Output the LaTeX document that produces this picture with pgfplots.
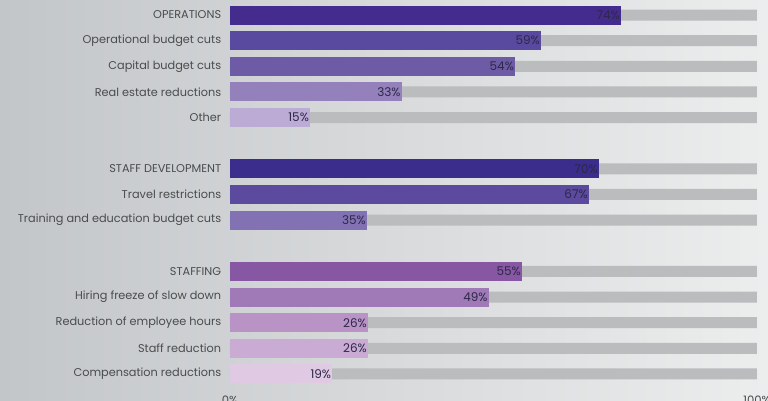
\documentclass[border=0pt]{standalone}
\usepackage{pgfplots}
\pgfplotsset{compat=1.18}
\usepackage{fontspec}
\setmainfont{Poppins}
\usetikzlibrary{backgrounds}
\definecolor{cA}{HTML}{432C8E}
\definecolor{cB}{HTML}{5A4A9F}
\definecolor{cC}{HTML}{6E5BA5}
\definecolor{cD}{HTML}{9480BB}
\definecolor{cE}{HTML}{BBABD5}
\definecolor{cF}{HTML}{3A2D8C}
\definecolor{cG}{HTML}{5C4A9E}
\definecolor{cH}{HTML}{8372B3}
\definecolor{cI}{HTML}{8857A3}
\definecolor{cJ}{HTML}{A07AB6}
\definecolor{cK}{HTML}{B993C6}
\definecolor{cL}{HTML}{C9ABD4}
\definecolor{cM}{HTML}{E0C9E2}
\definecolor{bargray}{HTML}{BBBCBD}
\definecolor{labgray}{HTML}{4A4B4D}
\definecolor{valcol}{HTML}{2C2848}
\definecolor{bgl}{HTML}{C3C6C9}
\definecolor{bgr}{HTML}{ECEDED}
\begin{document}
\begin{tikzpicture}
\begin{axis}[
  scale only axis, width=527pt, height=400pt,
  xmin=0, xmax=100, ymin=-0.585, ymax=15.015, y dir=reverse,
  clip=false, axis line style={draw=none}, tick style={draw=none},
  xbar, bar shift=0pt,
  ytick={0,1,2,3,4,6,7,8,10,11,12,13,14},
  yticklabels={OPERATIONS, Operational budget cuts, Capital budget cuts, Real estate reductions, Other, STAFF DEVELOPMENT, Travel restrictions, Training and education budget cuts, STAFFING, Hiring freeze of slow down, Reduction of employee hours, Staff reduction, Compensation reductions},
  yticklabel style={font=\fontsize{11.3}{13}\selectfont, text=labgray, xshift=-1pt},
  xtick={0,100}, xticklabels={0\%,100\%},
  xticklabel style={font=\fontsize{11.6}{13}\selectfont, text=labgray, yshift=8pt},
  /pgf/number format/assume math mode=true,
  every node near coord/.append style={anchor=east, font=\fontsize{12}{14}\selectfont, text=valcol, inner sep=1pt},
]
\coordinate (bbsw) at (axis cs:-43.64,15.015);
\coordinate (bbne) at (axis cs:102.09,-0.585);
\addplot[fill=bargray, draw=none, bar width=11pt] coordinates {(100,0) (100,1) (100,2) (100,3) (100,4) (100,6) (100,7) (100,8) (100,10) (100,11) (100,12) (100,13) (100,14)};
\addplot[fill=cA, draw=none, bar width=19pt, nodes near coords={74\%}] coordinates {(74.2,0)};
\addplot[fill=cB, draw=none, bar width=19pt, nodes near coords={59\%}] coordinates {(59,1)};
\addplot[fill=cC, draw=none, bar width=19pt, nodes near coords={54\%}] coordinates {(54.1,2)};
\addplot[fill=cD, draw=none, bar width=19pt, nodes near coords={33\%}] coordinates {(32.6,3)};
\addplot[fill=cE, draw=none, bar width=19pt, nodes near coords={15\%}] coordinates {(15.2,4)};
\addplot[fill=cF, draw=none, bar width=19pt, nodes near coords={70\%}] coordinates {(70,6)};
\addplot[fill=cG, draw=none, bar width=19pt, nodes near coords={67\%}] coordinates {(68.1,7)};
\addplot[fill=cH, draw=none, bar width=19pt, nodes near coords={35\%}] coordinates {(26,8)};
\addplot[fill=cI, draw=none, bar width=19pt, nodes near coords={55\%}] coordinates {(55.4,10)};
\addplot[fill=cJ, draw=none, bar width=19pt, nodes near coords={49\%}] coordinates {(49.1,11)};
\addplot[fill=cK, draw=none, bar width=19pt, nodes near coords={26\%}] coordinates {(26.2,12)};
\addplot[fill=cL, draw=none, bar width=19pt, nodes near coords={26\%}] coordinates {(26.2,13)};
\addplot[fill=cM, draw=none, bar width=19pt, nodes near coords={19\%}] coordinates {(19.4,14)};
\end{axis}
\begin{scope}[on background layer]
\fill[left color=bgl, right color=bgr] (bbsw) rectangle (bbne);
\end{scope}
\pgfresetboundingbox
\useasboundingbox (bbsw) rectangle (bbne);
\end{tikzpicture}
\end{document}
